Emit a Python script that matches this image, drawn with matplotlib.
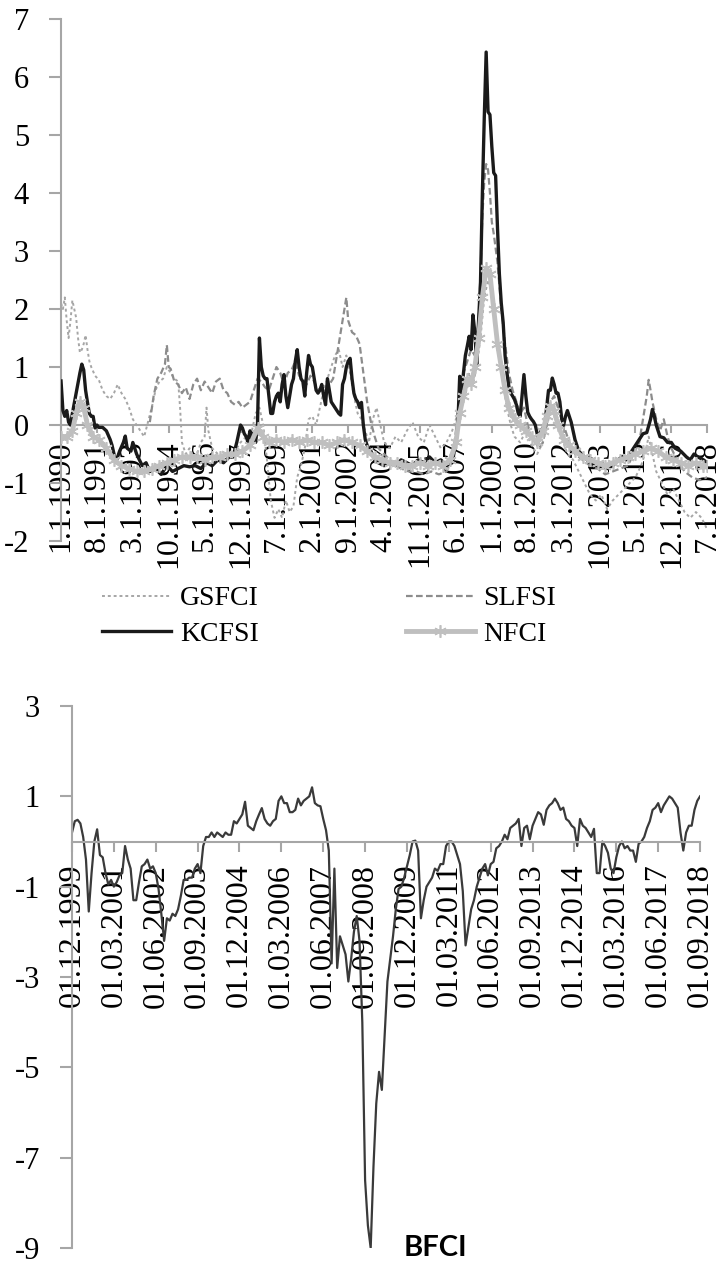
import numpy as np
import matplotlib.pyplot as plt

plt.rcParams['font.family'] = ['Liberation Serif', 'DejaVu Serif']
plt.rcParams['axes.unicode_minus'] = False

# ---------------- data: top panel (monthly index from 1.1.1990) ----------------
top_labels = ['1.1.1990', '8.1.1991', '3.1.1993', '10.1.1994', '5.1.1996', '12.1.1997',
              '7.1.1999', '2.1.2001', '9.1.2002', '4.1.2004', '11.1.2005', '6.1.2007',
              '1.1.2009', '8.1.2010', '3.1.2012', '10.1.2013', '5.1.2015', '12.1.2016',
              '7.1.2018']

gs_m = [0, 1, 2, 3, 4, 5, 6, 7, 8, 9, 10, 11, 12, 13, 14, 15, 16, 18, 20, 22, 24, 26, 28, 30,
        32, 34, 36, 38, 40, 42, 44, 46, 48, 50, 52, 54, 56, 58, 60, 62, 63, 64, 66, 68, 70, 72,
        74, 76, 77, 78, 80, 83, 86, 89, 92, 95, 98, 101, 103, 105, 107, 109, 111, 113, 115, 117,
        119, 121, 123, 125, 127, 129, 131, 133, 135, 137, 139, 141, 143, 145, 147, 149, 151, 153,
        155, 157, 159, 161, 163, 165, 167, 169, 171, 174, 177, 180, 183, 186, 189, 192, 195, 198,
        201, 204, 207, 210, 212, 214, 216, 218, 220, 222, 224, 226, 228, 230, 232, 234, 236, 238,
        240, 243, 246, 249, 252, 255, 258, 260, 262, 264, 266, 268, 271, 274, 277, 280, 283, 286,
        289, 292, 295, 298, 301, 304, 307, 309, 311, 313, 315, 318, 321, 324, 327, 330, 333, 336,
        339, 342]
gs_v = [2.1, 2.0, 2.2, 1.8, 1.5, 1.8, 2.15, 2.0, 1.85, 1.5, 1.25, 1.3, 1.4, 1.55, 1.3, 1.1, 1.0,
        0.85, 0.78, 0.6, 0.5, 0.45, 0.55, 0.7, 0.55, 0.45, 0.3, 0.1, 0.0, -0.1, -0.2, 0.05, 0.3,
        0.6, 0.75, 0.8, 1.0, 0.9, 0.8, 0.75, 0.3, -0.3, -0.5, -0.4, -0.55, -0.5, -0.3, -0.2, 0.3,
        -0.1, -0.4, -0.5, -0.6, -0.55, -0.45, -0.3, -0.2, -0.1, 0.2, 0.3, 0.0, -0.6, -1.3, -1.6,
        -1.45, -1.6, -1.3, -1.5, -1.4, -0.9, -0.7, -0.4, 0.1, 0.15, 0.0, 0.3, 0.6, 0.8, 1.0, 1.2,
        1.3, 1.0, 1.2, 0.9, 0.5, 0.2, 0.1, -0.1, -0.3, 0.1, 0.3, 0.0, -0.3, -0.4, -0.2, -0.3, -0.1,
        0.05, -0.2, -0.3, 0.0, -0.2, -0.4, -0.3, -0.1, 0.2, 0.6, 0.5, 0.9, 0.7, 1.0, 1.5, 2.2, 2.5,
        2.3, 1.6, 1.2, 0.7, 0.3, 0.0, -0.2, -0.3, -0.1, -0.35, -0.5, -0.3, 0.1, 0.3, 0.2, 0.0, -0.3,
        -0.5, -0.6, -0.8, -1.0, -1.2, -1.3, -1.2, -1.45, -1.3, -1.2, -1.1, -1.0, -0.9, -0.7, -0.5,
        -0.2, -0.5, -0.8, -1.0, -1.2, -1.1, -1.3, -1.5, -1.6, -1.5, -1.6, -1.8]

sl_m = [47, 49, 51, 53, 55, 56, 57, 58, 60, 62, 64, 66, 68, 70, 72, 74, 76, 78, 80, 82, 84, 86,
        88, 90, 92, 94, 96, 98, 100, 102, 104, 106, 108, 110, 112, 114, 116, 118, 120, 122, 124,
        126, 128, 130, 132, 134, 136, 138, 140, 142, 144, 146, 148, 150, 151, 152, 154, 156, 158,
        160, 162, 164, 166, 168, 171, 174, 177, 180, 184, 188, 192, 196, 200, 204, 207, 209, 211,
        213, 215, 217, 219, 221, 222, 223, 224, 225, 226, 227, 228, 229, 231, 233, 235, 237, 239,
        241, 243, 245, 247, 249, 251, 253, 255, 257, 259, 261, 263, 265, 267, 269, 272, 276, 280,
        284, 288, 292, 296, 300, 303, 306, 308, 310, 311, 312, 313, 315, 317, 319, 321, 323, 326,
        330, 334, 338, 342]
sl_v = [0.05, 0.5, 0.8, 0.9, 1.05, 1.38, 1.0, 0.97, 0.75, 0.7, 0.55, 0.65, 0.45, 0.7, 0.8, 0.6,
        0.75, 0.65, 0.55, 0.75, 0.8, 0.6, 0.55, 0.4, 0.35, 0.4, 0.3, 0.35, 0.4, 0.6, 0.8, 0.75,
        0.65, 0.6, 0.8, 1.0, 0.9, 0.7, 0.9, 0.95, 1.1, 0.85, 0.8, 0.7, 0.85, 0.75, 0.6, 0.65, 0.6,
        0.7, 0.8, 1.2, 1.6, 2.0, 2.2, 1.8, 1.6, 1.55, 1.4, 0.9, 0.4, 0.05, -0.2, -0.4, -0.5, -0.6,
        -0.7, -0.75, -0.8, -0.8, -0.85, -0.8, -0.85, -0.8, -0.6, -0.1, 0.5, 0.9, 1.1, 1.3, 1.2, 1.8,
        2.6, 3.6, 4.2, 4.5, 4.4, 4.0, 3.5, 3.3, 2.8, 2.0, 1.4, 0.9, 0.6, 0.4, 0.2, 0.3, 0.0, -0.2,
        -0.3, -0.4, -0.3, 0.0, 0.4, 0.5, 0.3, 0.1, -0.1, -0.3, -0.5, -0.6, -0.7, -0.75, -0.85, -0.8,
        -0.75, -0.7, -0.5, -0.3, 0.1, 0.5, 0.78, 0.6, 0.4, 0.1, -0.1, 0.1, -0.2, -0.4, -0.6, -0.8,
        -0.9, -0.95, -0.9]

kc_m = [0, 1, 2, 3, 4, 5, 6, 8, 10, 11, 12, 13, 14, 15, 16, 17, 18, 19, 20, 22, 24, 26, 27, 29,
        31, 33, 34, 35, 37, 38, 40, 41, 43, 45, 47, 50, 53, 56, 59, 62, 65, 68, 71, 74, 77, 80, 83,
        86, 89, 91, 93, 95, 96, 97, 98, 99, 100, 101, 102, 103, 104, 105, 106, 107, 108, 109, 110,
        111, 112, 113, 114, 115, 116, 117, 118, 119, 120, 121, 122, 123, 124, 125, 126, 127, 128,
        129, 130, 131, 132, 133, 134, 135, 136, 137, 138, 139, 140, 141, 142, 143, 144, 145, 146,
        147, 148, 149, 150, 151, 152, 153, 154, 155, 156, 157, 158, 159, 160, 161, 162, 164, 166,
        168, 171, 174, 177, 180, 183, 186, 189, 192, 195, 198, 201, 204, 207, 209, 210, 211, 212,
        213, 214, 215, 216, 217, 218, 219, 220, 221, 222, 223, 224, 225, 226, 227, 228, 229, 230,
        231, 232, 233, 234, 235, 236, 237, 238, 239, 240, 241, 242, 243, 244, 245, 246, 247, 248,
        249, 250, 251, 252, 253, 254, 255, 256, 257, 258, 259, 260, 261, 262, 263, 264, 265, 266,
        267, 268, 269, 270, 271, 272, 274, 277, 280, 283, 286, 289, 292, 295, 297, 299, 301, 303,
        305, 306, 308, 310, 312, 313, 314, 315, 316, 317, 319, 321, 323, 325, 328, 331, 333, 335,
        337, 340, 342]
kc_v = [0.76, 0.25, 0.15, 0.25, 0.05, 0.0, 0.2, 0.55, 0.9, 1.05, 0.95, 0.6, 0.39, 0.2, 0.15,
        0.15, -0.05, 0.0, -0.04, -0.04, -0.1, -0.25, -0.35, -0.64, -0.45, -0.3, -0.19, -0.4, -0.45,
        -0.3, -0.5, -0.57, -0.7, -0.65, -0.8, -0.75, -0.85, -0.7, -0.8, -0.75, -0.7, -0.72, -0.7,
        -0.75, -0.65, -0.7, -0.6, -0.65, -0.55, -0.55, -0.3, 0.0, -0.05, -0.15, -0.2, -0.3, -0.1,
        -0.25, -0.13, -0.3, 0.03, 1.5, 1.0, 0.85, 0.8, 0.8, 0.5, 0.2, 0.2, 0.4, 0.5, 0.55, 0.4,
        0.7, 0.87, 0.5, 0.3, 0.5, 0.7, 0.8, 1.1, 1.3, 1.0, 0.8, 0.75, 0.5, 0.9, 1.2, 1.05, 1.0,
        0.8, 0.6, 0.55, 0.6, 0.7, 0.5, 0.35, 0.8, 0.6, 0.4, 0.35, 0.3, 0.25, 0.2, 0.17, 0.7, 0.8,
        1.0, 1.1, 1.15, 0.8, 0.55, 0.45, 0.4, 0.3, 0.39, 0.0, -0.25, -0.35, -0.45, -0.6, -0.65,
        -0.7, -0.65, -0.7, -0.6, -0.65, -0.7, -0.6, -0.65, -0.55, -0.65, -0.6, -0.7, -0.65, -0.3,
        0.0, 0.84, 0.55, 0.9, 1.2, 1.36, 1.53, 1.3, 1.9, 1.6, 1.05, 1.8, 2.46, 4.0, 5.3, 6.43, 5.4,
        5.35, 4.8, 4.35, 4.3, 3.4, 2.6, 2.1, 1.77, 1.2, 0.9, 0.67, 0.55, 0.5, 0.44, 0.35, 0.2,
        0.15, 0.5, 0.87, 0.5, 0.22, 0.15, 0.1, 0.06, 0.0, -0.15, -0.25, -0.1, -0.05, 0.0, 0.3, 0.6,
        0.6, 0.81, 0.7, 0.55, 0.55, 0.4, 0.1, 0.0, 0.15, 0.25, 0.15, 0.05, -0.1, -0.25, -0.45,
        -0.55, -0.65, -0.7, -0.65, -0.75, -0.7, -0.6, -0.54, -0.6, -0.5, -0.4, -0.3, -0.25, -0.15,
        -0.13, 0.1, 0.27, 0.15, 0.0, -0.1, -0.2, -0.22, -0.3, -0.3, -0.4, -0.45, -0.55, -0.6, -0.5,
        -0.55, -0.6, -0.65]

nf_m = [0, 3, 6, 8, 10, 12, 14, 17, 20, 24, 28, 32, 36, 40, 44, 48, 52, 56, 60, 64, 68, 72, 76,
        80, 84, 88, 92, 96, 100, 104, 107, 110, 114, 118, 122, 126, 130, 134, 138, 142, 146, 150,
        154, 158, 162, 166, 170, 174, 178, 182, 186, 190, 194, 198, 202, 206, 209, 211, 213, 215,
        217, 219, 221, 223, 225, 227, 229, 231, 233, 235, 237, 240, 243, 246, 249, 252, 255, 257,
        259, 261, 263, 266, 269, 272, 276, 280, 284, 288, 292, 296, 300, 304, 308, 312, 316, 320,
        324, 328, 332, 336, 340, 342]
nf_v = [-0.2, -0.2, -0.1, 0.2, 0.4, 0.3, 0.0, -0.2, -0.25, -0.4, -0.6, -0.7, -0.75, -0.8, -0.8,
        -0.75, -0.7, -0.65, -0.6, -0.55, -0.55, -0.55, -0.6, -0.55, -0.55, -0.5, -0.5, -0.45,
        -0.35, -0.05, -0.2, -0.3, -0.25, -0.3, -0.25, -0.3, -0.25, -0.3, -0.3, -0.35, -0.3, -0.25,
        -0.3, -0.35, -0.45, -0.55, -0.6, -0.65, -0.65, -0.7, -0.7, -0.65, -0.7, -0.65, -0.7, -0.6,
        -0.3, 0.2, 0.5, 0.8, 0.7, 1.0, 1.5, 2.2, 2.7, 2.6, 2.0, 1.4, 1.0, 0.6, 0.3, 0.1, 0.0, -0.1,
        -0.2, -0.3, -0.1, 0.15, 0.33, 0.25, 0.0, -0.25, -0.35, -0.45, -0.55, -0.6, -0.65, -0.7,
        -0.65, -0.6, -0.55, -0.5, -0.45, -0.4, -0.45, -0.55, -0.6, -0.65, -0.7, -0.65, -0.7, -0.7]

# ---------------- data: bottom panel (monthly from 01.12.1999) ----------------
bot_labels = ['01.12.1999', '01.03.2001', '01.06.2002', '01.09.2003', '01.12.2004',
              '01.03.2006', '01.06.2007', '01.09.2008', '01.12.2009', '01.03.2011',
              '01.06.2012', '01.09.2013', '01.12.2014', '01.03.2016', '01.06.2017',
              '01.09.2018']

bfci = [0.2, 0.45, 0.48, 0.4, 0.1, -0.4, -1.55, -0.7, 0.0, 0.27, -0.3, -0.35, -0.7, -0.95, -0.85,
        -1.0, -0.9, -0.75, -0.7, -0.1, -0.4, -0.6, -1.3, -1.3, -0.9, -0.55, -0.5, -0.4, -0.6, -0.55,
        -0.7, -1.05, -1.6, -2.2, -1.7, -1.75, -1.6, -1.65, -1.5, -1.2, -0.85, -0.85, -0.8, -0.8,
        -0.6, -0.5, -0.7, -0.1, 0.1, 0.1, 0.2, 0.1, 0.2, 0.15, 0.1, 0.2, 0.15, 0.15, 0.45, 0.4, 0.5,
        0.6, 0.88, 0.35, 0.3, 0.25, 0.45, 0.6, 0.74, 0.5, 0.4, 0.35, 0.45, 0.5, 0.9, 1.0, 0.85,
        0.85, 0.65, 0.65, 0.7, 0.95, 0.8, 0.9, 0.95, 1.0, 1.2, 0.85, 0.8, 0.78, 0.5, 0.25, -0.2,
        -2.7, -0.6, -2.8, -2.1, -2.3, -2.5, -3.1, -2.6, -2.0, -1.65, -2.2, -4.0, -7.5, -8.5, -9.0,
        -7.2, -5.8, -5.1, -5.5, -4.3, -3.1, -2.6, -2.1, -1.5, -1.05, -1.0, -0.8, -0.55, -0.3, 0.0,
        0.02, -0.2, -1.7, -1.3, -1.0, -0.9, -0.8, -0.6, -0.65, -0.5, -0.5, -0.1, 0.0, 0.0, -0.1,
        -0.3, -0.5, -1.1, -2.3, -1.9, -1.5, -1.3, -1.0, -0.8, -0.6, -0.5, -0.75, -0.5, -0.45, -0.15,
        -0.1, 0.0, 0.15, 0.05, 0.3, 0.35, 0.4, 0.5, -0.1, 0.3, 0.35, 0.05, 0.35, 0.5, 0.65, 0.6,
        0.37, 0.7, 0.8, 0.85, 0.95, 0.85, 0.7, 0.75, 0.5, 0.45, 0.35, 0.3, -0.1, 0.5, 0.35, 0.3,
        0.2, 0.1, 0.28, -0.7, -0.7, 0.0, -0.1, -0.25, -0.6, -0.7, -0.35, -0.1, 0.0, -0.15, -0.1,
        -0.2, -0.2, -0.45, -0.05, 0.0, 0.1, 0.3, 0.45, 0.7, 0.75, 0.85, 0.65, 0.8, 0.9, 1.0, 0.95,
        0.85, 0.75, 0.2, -0.2, 0.2, 0.35, 0.35, 0.7, 0.9, 1.0]

axis_col = '#a6a6a6'

fig = plt.figure(figsize=(7.18, 12.68), dpi=100)


def style_axis(ax, ylen, ypad, ysize, xlen, xpad, xsize):
    for s in ['top', 'right']:
        ax.spines[s].set_visible(False)
    ax.spines['left'].set_color(axis_col)
    ax.spines['left'].set_linewidth(1.5)
    ax.spines['bottom'].set_position(('data', 0))
    ax.spines['bottom'].set_color(axis_col)
    ax.spines['bottom'].set_linewidth(1.5)
    ax.tick_params(axis='y', colors=axis_col, width=1.5, labelcolor='black',
                   length=ylen, pad=ypad, labelsize=ysize)
    ax.tick_params(axis='x', colors=axis_col, width=1.5, labelcolor='black',
                   length=xlen, pad=xpad, labelsize=xsize, labelrotation=90)


# ---------------- top panel ----------------
ax1 = fig.add_axes([0.085, 0.5733, 0.9, 0.4117])
l_gs, = ax1.plot(gs_m, gs_v, color='#a6a6a6', lw=1.4, ls=(0, (1.5, 1.5)), zorder=2)
l_sl, = ax1.plot(sl_m, sl_v, color='#8c8c8c', lw=1.6, ls=(0, (3, 1.5)), zorder=3)
l_kc, = ax1.plot(kc_m, kc_v, color='#1a1a1a', lw=2.4, zorder=4)
l_nf, = ax1.plot(nf_m, nf_v, color='#bfbfbf', lw=3.5, marker=(6, 2, 0), ms=9, mew=1.2,
                 zorder=5)
ax1.set_xlim(0, 342)
ax1.set_ylim(-2, 7)
ax1.set_yticks(range(-2, 8))
ax1.set_xticks(np.arange(0, 343, 19))
ax1.set_xticklabels(top_labels)
style_axis(ax1, 9, 14, 22, 6, 5, 23)

fig.legend([l_gs, l_kc, l_sl, l_nf], ['GSFCI', 'KCFSI', 'SLFSI', 'NFCI'], ncol=2,
           loc='upper left', bbox_to_anchor=(102 / 718, 1 - 586 / 1268), frameon=False,
           fontsize=20, handlelength=2.5, handletextpad=0.3, columnspacing=5.3,
           borderpad=0, borderaxespad=0, labelspacing=0.35)

# ---------------- bottom panel ----------------
ax2 = fig.add_axes([0.1003, 0.0158, 0.8747, 0.4274])
ax2.plot(range(len(bfci)), bfci, color='#3a3a3a', lw=1.6)
ax2.set_xlim(0, 225)
ax2.set_ylim(-9, 3)
ax2.set_yticks([3, 1, -1, -3, -5, -7, -9])
ax2.set_xticks(np.arange(0, 226, 15))
ax2.set_xticklabels(bot_labels)
style_axis(ax2, 9, 14, 22, 7, 9, 23)
ax2.text(0.578, 0.0, 'BFCI', transform=ax2.transAxes, fontsize=21, fontweight='bold',
         family='Lato', ha='center', va='center')

fig.savefig('out.png', dpi=100)
